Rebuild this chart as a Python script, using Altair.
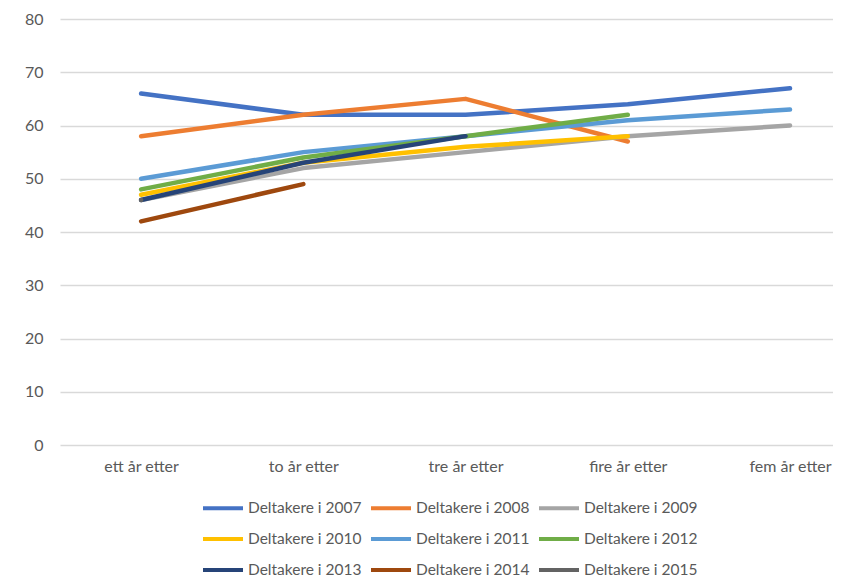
import altair as alt
import pandas as pd

categories = ["ett år etter", "to år etter", "tre år etter", "fire år etter", "fem år etter"]
series = ["Deltakere i 2007", "Deltakere i 2008", "Deltakere i 2009",
          "Deltakere i 2010", "Deltakere i 2011", "Deltakere i 2012",
          "Deltakere i 2013", "Deltakere i 2014", "Deltakere i 2015"]
v2007 = [66, 62, 62, 64, 67]
v2008 = [58, 62, 65, 57]
v2009 = [46, 52, 55, 58, 60]
v2010 = [47, 53, 56, 58]
v2011 = [50, 55, 58, 61, 63]
v2012 = [48, 54, 58, 62]
v2013 = [46, 53, 58]
v2014 = [42, 49]
v2015 = [46]
colors = ["#4472C4", "#ED7D31", "#A5A5A5", "#FFC000", "#5B9BD5",
          "#70AD47", "#264478", "#9E480E", "#636363"]

values = [v2007, v2008, v2009, v2010, v2011, v2012, v2013, v2014, v2015]
rows = []
for s, vals in zip(series, values):
    for i, v in enumerate(vals):
        rows.append({"serie": s, "idx": i, "kategori": categories[i], "verdi": v})
df = pd.DataFrame(rows)

FONT = "Lato"
TXT = "#595959"
label_expr = "[" + ",".join("'" + c + "'" for c in categories) + "][datum.value]"

chart = alt.Chart(df).mark_line(strokeWidth=4.5, strokeCap="round", strokeJoin="round").encode(
    x=alt.X("idx:Q", title=None,
            scale=alt.Scale(domain=[-0.5, 4.265], nice=False, zero=False),
            axis=alt.Axis(values=list(range(len(categories))), labelExpr=label_expr,
                          labelAngle=0, domain=False, ticks=False, grid=False,
                          labelPadding=13, labelFontSize=16, labelColor=TXT, labelFont=FONT,
                          labelFlush=False, labelOverlap=False)),
    y=alt.Y("verdi:Q", title=None,
            scale=alt.Scale(domain=[0, 80], nice=False),
            axis=alt.Axis(values=list(range(0, 81, 10)), domain=False, ticks=False,
                          gridColor="#D9D9D9", gridWidth=1.3, labelPadding=17,
                          labelFontSize=16, labelColor=TXT, labelFont=FONT)),
    color=alt.Color("serie:N", sort=series,
                    scale=alt.Scale(domain=series, range=colors),
                    legend=alt.Legend(title=None, orient="none", legendX=141, legendY=467,
                                      direction="horizontal",
                                      columns=3, symbolType="stroke", symbolSize=1600,
                                      symbolStrokeWidth=4, labelFontSize=15.5, labelColor=TXT,
                                      labelFont=FONT, labelOffset=3, columnPadding=1,
                                      rowPadding=-8, labelLimit=200)),
).properties(
    width=773, height=426,
    autosize=alt.AutoSizeParams(type="none"),
    padding={"left": 52, "top": 11, "right": 0, "bottom": 132},
).configure(background="white").configure_view(stroke=None)

chart.save("out.html", embed_options={"renderer": "svg", "actions": False})
